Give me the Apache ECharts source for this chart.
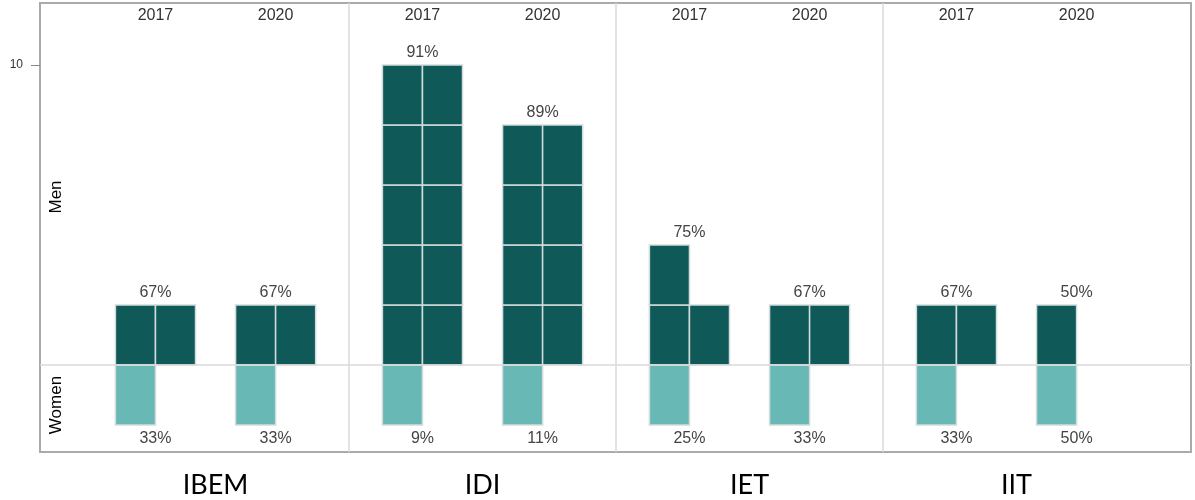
<!DOCTYPE html>
<html>
<head>
<meta charset="utf-8">
<script src="https://cdn.jsdelivr.net/npm/echarts@6/dist/echarts.min.js"></script>
<style>
  html, body { margin: 0; padding: 0; background: #fff; }
  #chart { width: 1195px; height: 500px; }
</style>
</head>
<body>
<div id="chart"></div>
<script>
// institutes (panels) and years (bars inside a panel)
const categories = ['IBEM', 'IDI', 'IET', 'IIT'];
const years = ['2017', '2020'];

// head counts, one square per person
const men = [[2, 2], [10, 8], [3, 2], [2, 1]];
const women = [[1, 1], [1, 1], [1, 1], [1, 1]];

// labels as printed on the chart
const menPct = [['67%', '67%'], ['91%', '89%'], ['75%', '67%'], ['67%', '50%']];
const womenPct = [['33%', '33%'], ['9%', '11%'], ['25%', '33%'], ['33%', '50%']];

// x units: one panel = 20, one square column = 3
const PANEL = 20;
const COL = 3;
const barCenter = (g, y) => g * PANEL + PANEL / 2 + (y === 0 ? -4.5 : 4.5);

const data = [];
categories.forEach((c, g) => {
  years.forEach((yr, y) => {
    data.push([g, y, men[g][y], women[g][y], barCenter(g, y)]);
  });
});

const DARK = '#0f5959';
const LIGHT = '#68b8b5';
const FONT = '"Liberation Sans", Arial, sans-serif';

function renderItem(params, api) {
  const g = api.value(0);
  const y = api.value(1);
  const m = api.value(2);
  const w = api.value(3);
  const cx = api.value(4);
  const children = [];
  const cell = (x0, yTop, yBot, fill) => {
    const p1 = api.coord([x0, yTop]);
    const p2 = api.coord([x0 + COL, yBot]);
    children.push({
      type: 'rect',
      shape: { x: p1[0], y: p1[1], width: p2[0] - p1[0], height: p2[1] - p1[1] },
      style: { fill, stroke: '#d3dcdc', lineWidth: 1.5 },
    });
  };
  for (let i = 0; i < m; i++) {
    const col = i % 2;
    const row = Math.floor(i / 2);
    cell(cx - COL + col * COL, row * 2 + 2, row * 2, DARK);
  }
  for (let i = 0; i < w; i++) {
    const col = i % 2;
    const row = Math.floor(i / 2);
    cell(cx - COL + col * COL, -row * 2, -row * 2 - 2, LIGHT);
  }
  const top = api.coord([cx, Math.ceil(m / 2) * 2]);
  const bot = api.coord([cx, -Math.ceil(w / 2) * 2]);
  children.push({
    type: 'text',
    style: {
      text: menPct[g][y], x: top[0], y: top[1] - 12,
      align: 'center', verticalAlign: 'middle', font: '16px ' + FONT, fill: '#444',
    },
  });
  children.push({
    type: 'text',
    style: {
      text: womenPct[g][y], x: bot[0], y: bot[1] + 14,
      align: 'center', verticalAlign: 'middle', font: '16px ' + FONT, fill: '#444',
    },
  });
  return { type: 'group', children };
}

const chart = echarts.init(document.getElementById('chart'));
chart.setOption({
  animation: false,
  grid: {
    left: 40, right: 4, top: 3, bottom: 48,
    show: true, borderColor: '#aaaaaa', borderWidth: 2,
  },
  xAxis: [
    {
      type: 'value', min: -3.15, max: 83.07, position: 'bottom',
      axisLine: { show: false, onZero: false }, axisTick: { show: false }, splitLine: { show: false },
      axisLabel: {
        customValues: categories.map((c, g) => g * PANEL + PANEL / 2),
        formatter: (v) => categories[Math.round((v - PANEL / 2) / PANEL)],
        fontSize: 27, fontFamily: 'Lato', color: '#000', margin: 20,
      },
    },
    {
      type: 'value', min: -3.15, max: 83.07, position: 'top',
      axisLine: { show: false, onZero: false }, axisTick: { show: false }, splitLine: { show: false },
      axisLabel: {
        inside: true,
        customValues: data.map((d) => d[4]),
        formatter: (v) => years[(Math.round(v) % PANEL) < PANEL / 2 ? 0 : 1],
        fontSize: 16, fontFamily: FONT, color: '#333', margin: 5,
      },
    },
  ],
  yAxis: {
    type: 'value', min: -2.9, max: 12.07, position: 'left',
    axisLine: { show: false, onZero: false }, splitLine: { show: false },
    axisTick: { show: true, customValues: [10], length: 9, lineStyle: { color: '#888' } },
    axisLabel: { customValues: [10], fontSize: 12, fontFamily: FONT, color: '#333', margin: 17 },
  },
  graphic: [
    {
      type: 'text', x: 56, y: 197, rotation: Math.PI / 2,
      style: { text: 'Men', align: 'center', verticalAlign: 'middle', font: '17px ' + FONT, fill: '#000' },
    },
    {
      type: 'text', x: 56, y: 405, rotation: Math.PI / 2,
      style: { text: 'Women', align: 'center', verticalAlign: 'middle', font: '17px ' + FONT, fill: '#000' },
    },
  ],
  series: [
    {
      type: 'custom',
      renderItem,
      encode: { x: 4, y: 2 },
      data,
      z: 3,
      markLine: {
        silent: true,
        symbol: 'none',
        label: { show: false },
        lineStyle: { color: '#dadada', width: 1.5, type: 'solid' },
        data: [{ xAxis: 20 }, { xAxis: 40 }, { xAxis: 60 }, { yAxis: 0 }],
      },
    },
  ],
});
</script>
</body>
</html>
